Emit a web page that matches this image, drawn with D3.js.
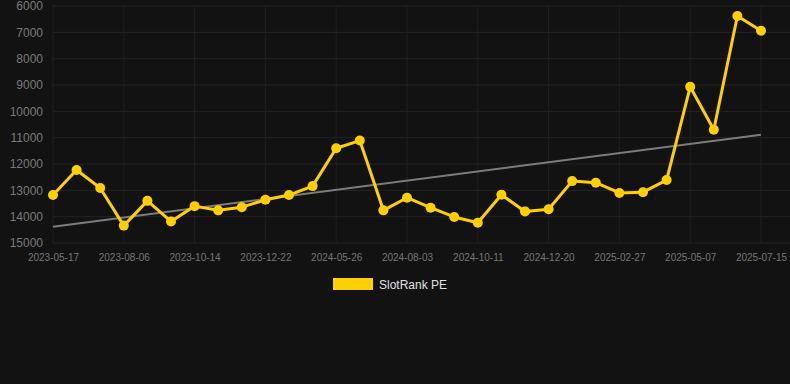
<!DOCTYPE html>
<html>
<head>
<meta charset="utf-8">
<script src="https://cdn.jsdelivr.net/npm/d3@7"></script>
<style>
  html, body { margin: 0; padding: 0; background: #121212; }
  svg { display: block; font-family: Arial, "Liberation Sans", sans-serif; }
</style>
</head>
<body>
<svg id="chart" width="790" height="384"></svg>
<script>
// categories (every third date is shown on the axis)
const dates = [
  '2023-05-17', '2023-06-13', '2023-07-10', '2023-08-06', '2023-08-29', '2023-09-21',
  '2023-10-14', '2023-11-06', '2023-11-29', '2023-12-22', '2024-02-15', '2024-04-05',
  '2024-05-26', '2024-06-18', '2024-07-11', '2024-08-03', '2024-08-26', '2024-09-18',
  '2024-10-11', '2024-11-03', '2024-11-26', '2024-12-20', '2025-01-12', '2025-02-04',
  '2025-02-27', '2025-03-22', '2025-04-14', '2025-05-07', '2025-05-30', '2025-06-22',
  '2025-07-15'
];
// SlotRank PE series
const ranks = [
  13180, 12230, 12910, 14340, 13400, 14180, 13600, 13760, 13640, 13360, 13180, 12840,
  11400, 11110, 13760, 13280, 13660, 14010, 14230, 13170, 13800, 13720, 12650, 12710,
  13100, 13070, 12610, 9070, 10700, 6380, 6940
];
// trend line, start and end values
const trend = [14380, 10890];
const yTicks = [6000, 7000, 8000, 9000, 10000, 11000, 12000, 13000, 14000, 15000];

const svg = d3.select('#chart');
const mLeft = 53;
const mRight = 761;
const mTop = 6;
const mBottom = 243;

const x = d3.scalePoint()
  .domain(dates)
  .range([mLeft, mRight]);

const y = d3.scaleLinear()
  .domain([6000, 15000])
  .range([mTop, mBottom]);

const shown = dates.filter((d, i) => i % 3 === 0);

// grid
svg.append('g')
  .selectAll('line')
  .data(yTicks)
  .enter()
  .append('line')
  .attr('x1', mLeft)
  .attr('x2', 790)
  .attr('y1', d => y(d))
  .attr('y2', d => y(d))
  .attr('stroke', '#232323')
  .attr('stroke-width', 1);

svg.append('g')
  .selectAll('line')
  .data(shown)
  .enter()
  .append('line')
  .attr('x1', d => x(d))
  .attr('x2', d => x(d))
  .attr('y1', mTop)
  .attr('y2', mBottom)
  .attr('stroke', '#1f1f1f')
  .attr('stroke-width', 1);

// y axis
const yAxis = svg.append('g')
  .attr('transform', `translate(${mLeft},0)`)
  .call(d3.axisLeft(y).tickValues(yTicks).tickSize(0).tickPadding(10).tickFormat(d3.format('d')));
yAxis.select('.domain').remove();
yAxis.selectAll('text')
  .attr('fill', '#7a7a7a')
  .attr('font-size', 12);

// x axis
const xAxis = svg.append('g')
  .attr('transform', `translate(0,${mBottom})`)
  .call(d3.axisBottom(x).tickValues(shown).tickSize(0).tickPadding(11));
xAxis.select('.domain').remove();
xAxis.selectAll('text')
  .attr('fill', '#777')
  .attr('font-size', 10);

// trend
svg.append('line')
  .attr('x1', x(dates[0]))
  .attr('x2', x(dates[dates.length - 1]))
  .attr('y1', y(trend[0]))
  .attr('y2', y(trend[1]))
  .attr('stroke', '#7c7c7c')
  .attr('stroke-width', 2);

// series
const line = d3.line()
  .x((d, i) => x(dates[i]))
  .y(d => y(d));

svg.append('path')
  .datum(ranks)
  .attr('d', line)
  .attr('fill', 'none')
  .attr('stroke', '#ffd000')
  .attr('stroke-width', 3)
  .attr('stroke-linejoin', 'round');

svg.append('g')
  .selectAll('circle')
  .data(ranks)
  .enter()
  .append('circle')
  .attr('cx', (d, i) => x(dates[i]))
  .attr('cy', d => y(d))
  .attr('r', 5)
  .attr('fill', '#ffd000');

// legend
const legend = svg.append('g').attr('transform', 'translate(333,278)');
legend.append('rect')
  .attr('width', 40)
  .attr('height', 12)
  .attr('fill', '#ffd000');
legend.append('text')
  .attr('x', 46)
  .attr('y', 10.5)
  .attr('fill', '#e0e0e0')
  .attr('font-size', 12)
  .text('SlotRank PE');
</script>
</body>
</html>
